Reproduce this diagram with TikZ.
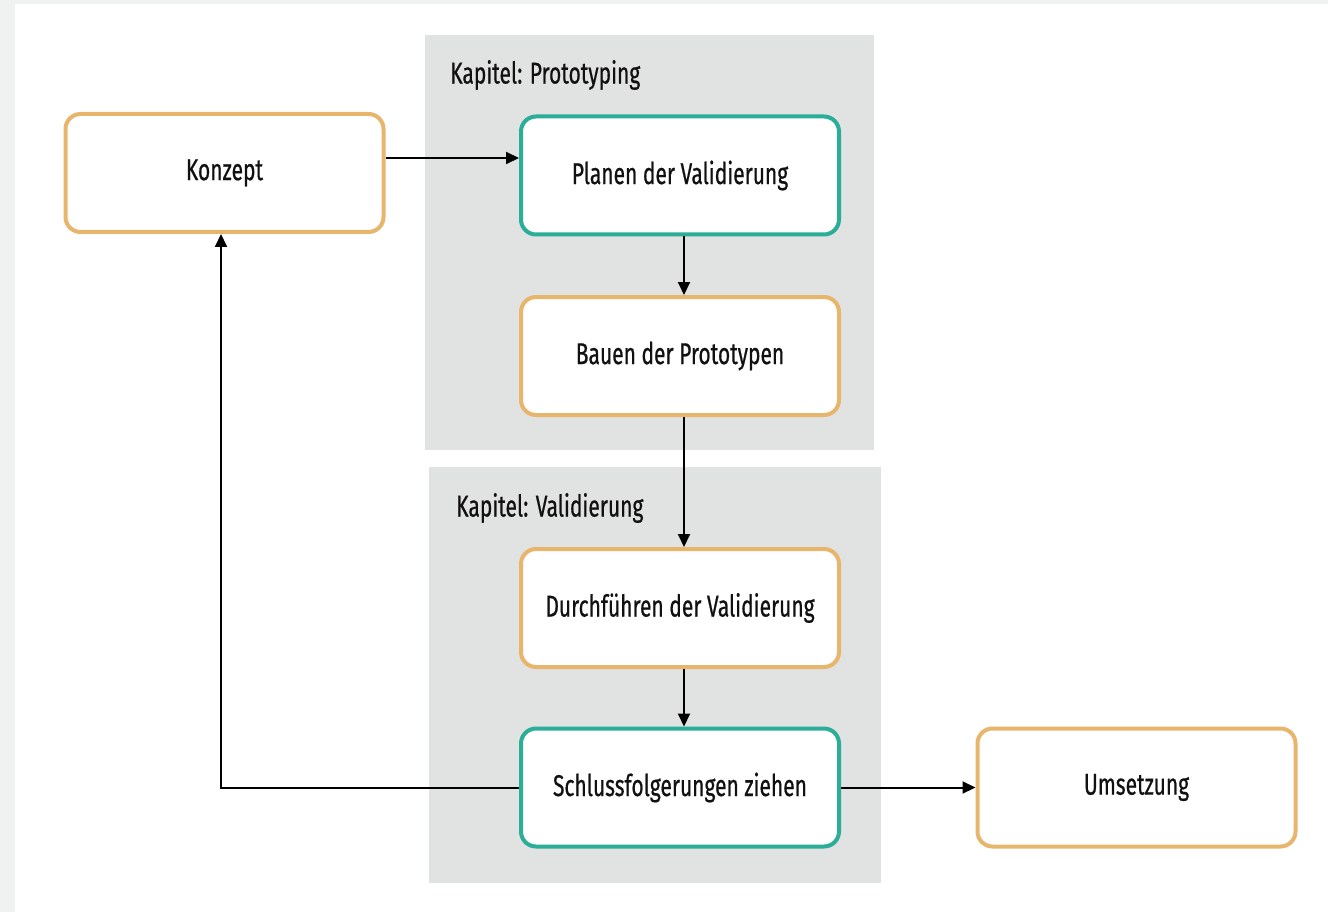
\documentclass[tikz,border=0pt]{standalone}
\usepackage{fontspec}
\setmainfont[FakeStretch=0.7,FakeBold=0.6]{Fira Sans}
\usetikzlibrary{arrows.meta,calc}
\definecolor{bgout}{HTML}{F0F1F1}
\definecolor{panel}{HTML}{E1E2E2}
\definecolor{orng}{HTML}{E8B56C}
\definecolor{teal2}{HTML}{2BAE97}
\definecolor{txt}{HTML}{111111}
\tikzset{
  box/.style={draw, line width=4pt, rounded corners=15pt, fill=white,
    minimum width=318pt, minimum height=118pt, inner sep=0pt,
    font=\fontsize{30}{34}\selectfont, text=txt},
  obox/.style={box, draw=orng},
  tbox/.style={box, draw=teal2},
  conn/.style={line width=2pt, -{Triangle[length=13pt,width=12pt]}},
  paneltitle/.style={anchor=west, inner sep=0pt, font=\fontsize{30}{34}\selectfont, text=txt},
  panelbox/.style={fill=panel, draw=none}
}
\begin{document}
\begin{tikzpicture}[x=1pt,y=-1pt]
\useasboundingbox (0,0) rectangle (1328,912);
\fill[bgout] (0,0) rectangle (1328,912);
\fill[white] (15,4) rectangle (1328,912);
% panels
\fill[panel] (425,35) rectangle (874,450);
\fill[panel] (429,467) rectangle (881,883);
\node[paneltitle] (t1) at (450,75) {Kapitel: Prototyping};
\node[paneltitle] (t2) at (456,508) {Kapitel: Validierung};
% nodes
\node[obox] (konzept) at (224.5,173) {Konzept};
\node[tbox] (planen) at (680,175.5) {Planen der Validierung};
\node[obox] (bauen) at (680,356) {Bauen der Prototypen};
\node[obox] (durch) at (680,608) {Durchführen der Validierung};
\node[tbox] (schluss) at (680,787.5) {Schlussfolgerungen ziehen};
\node[obox] (umsetz) at (1136.5,787.5) {Umsetzung};
% connectors
\draw[conn] ([yshift=15pt]konzept.east) -- ([yshift=15pt]konzept.east -| planen.west);
\draw[conn] ([xshift=4pt]planen.south) -- ([xshift=4pt]bauen.north);
\draw[conn] ([xshift=4pt]bauen.south) -- ([xshift=4pt]durch.north);
\draw[conn] ([xshift=4pt]durch.south) -- ([xshift=4pt]schluss.north);
\draw[conn] (schluss.east) -- (umsetz.west);
\draw[conn] (schluss.west) -| ([xshift=-3.5pt]konzept.south);
\end{tikzpicture}
\end{document}
